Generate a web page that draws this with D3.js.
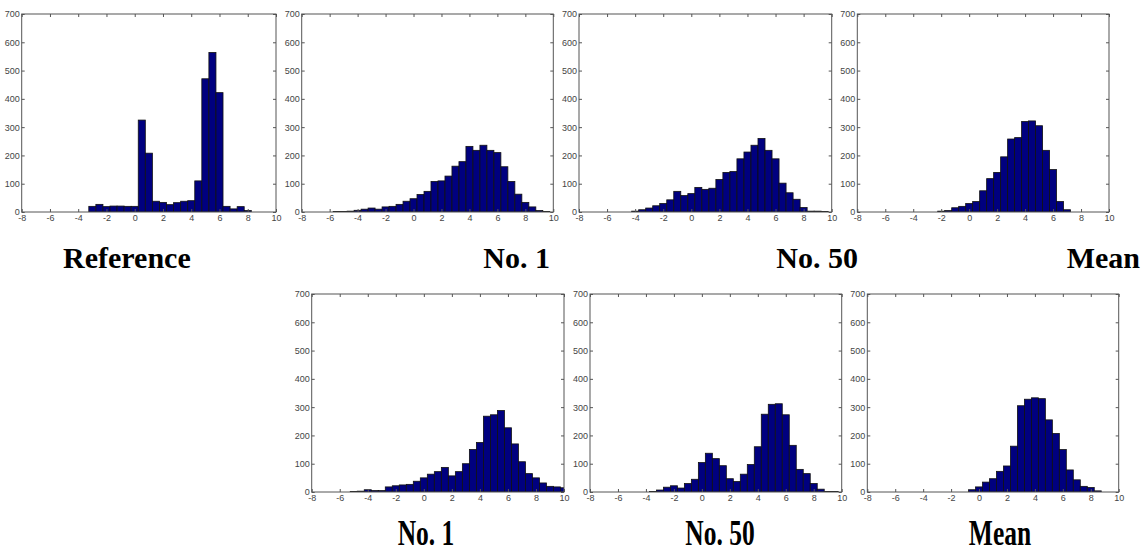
<!DOCTYPE html>
<html>
<head>
<meta charset="utf-8">
<script src="https://cdn.jsdelivr.net/npm/d3@7"></script>
<style>
  html, body { margin: 0; padding: 0; background: #fff; }
  svg { display: block; }
  .tick text { font-family: "Liberation Sans", Arial, sans-serif; font-size: 9px; fill: #444; }
  .caption { font-family: "Liberation Serif", "Times New Roman", serif; font-weight: bold; font-size: 30px; fill: #000; }
</style>
</head>
<body>
<svg id="chart" width="1147" height="552"></svg>
<script>
// Shared axis ticks and bin width (histogram bins of 0.5)
const xTicks = [-8, -6, -4, -2, 0, 2, 4, 6, 8, 10];
const yTicks = [0, 100, 200, 300, 400, 500, 600, 700];
const binWidth = 0.5;

// Reference distribution
const refStart = -3.25;
const refCounts = [20, 27, 19, 21, 21, 20, 20, 325, 208, 38, 34, 26, 33, 38, 40, 110, 471, 564, 422, 20, 11, 19, 5];

// Top row: No. 1, No. 50, Mean
const topNo1Start = -5.75;
const topNo1Counts = [2, 2, 3, 6, 10, 14, 10, 18, 20, 27, 38, 47, 62, 73, 108, 110, 127, 162, 178, 232, 218, 236, 218, 210, 160, 108, 63, 34, 18, 5, 2];
const topNo50Start = -4.25;
const topNo50Counts = [3, 8, 14, 22, 30, 43, 73, 58, 65, 87, 80, 84, 115, 140, 143, 188, 212, 236, 260, 218, 188, 102, 68, 45, 16, 3, 3, 2];
const topMeanStart = -2.25;
const topMeanCounts = [3, 5, 15, 20, 30, 37, 75, 118, 140, 195, 258, 263, 320, 322, 305, 218, 150, 37, 8];

// Bottom row: No. 1, No. 50, Mean
const botNo1Start = -5.25;
const botNo1Counts = [2, 3, 8, 5, 5, 18, 22, 25, 27, 38, 50, 63, 72, 87, 57, 72, 100, 150, 175, 268, 273, 288, 227, 170, 107, 65, 50, 32, 20, 18, 15];
const botNo50Start = -3.75;
const botNo50Counts = [2, 7, 17, 22, 14, 30, 45, 104, 137, 118, 93, 47, 37, 63, 97, 160, 275, 310, 312, 273, 165, 80, 65, 30, 10, 2, 2];
const botMeanStart = -0.75;
const botMeanCounts = [8, 18, 35, 47, 73, 92, 162, 305, 328, 333, 330, 255, 207, 150, 78, 43, 20, 16, 4];

const svg = d3.select("#chart");

const panelH = 198;
const panels = [
  { start: refStart,     counts: refCounts,     left: 21.7,  top: 14,  w: 254.3 },
  { start: topNo1Start,  counts: topNo1Counts,  left: 301.7, top: 14,  w: 251.6 },
  { start: topNo50Start, counts: topNo50Counts, left: 579,   top: 14,  w: 252.7 },
  { start: topMeanStart, counts: topMeanCounts, left: 857.3, top: 14,  w: 251.7 },
  { start: botNo1Start,  counts: botNo1Counts,  left: 311.7, top: 294, w: 252.3 },
  { start: botNo50Start, counts: botNo50Counts, left: 590,   top: 294, w: 251.7 },
  { start: botMeanStart, counts: botMeanCounts, left: 867.3, top: 294, w: 251.4 }
];

const plain = d => String(d);

panels.forEach((p, i) => {
  const g = svg.append("g").attr("transform", `translate(${p.left},${p.top})`);
  const x = d3.scaleLinear().domain([-8, 10]).range([0, p.w]);
  const y = d3.scaleLinear().domain([0, 700]).range([panelH, 0]);

  const clipId = "clip" + i;
  g.append("clipPath").attr("id", clipId)
    .append("rect").attr("width", p.w).attr("height", panelH);

  const bins = p.counts.map((c, k) => ({ x0: p.start + k * binWidth, x1: p.start + (k + 1) * binWidth, n: c }));

  g.append("g").attr("clip-path", `url(#${clipId})`)
    .selectAll("rect").data(bins).join("rect")
    .attr("x", d => x(d.x0))
    .attr("width", d => x(d.x1) - x(d.x0))
    .attr("y", d => y(d.n))
    .attr("height", d => y(0) - y(d.n))
    .attr("fill", "#00007f")
    .attr("stroke", "#111")
    .attr("stroke-width", 0.8);

  const axisColor = "#555";
  const style = sel => {
    sel.select(".domain").remove();
    sel.selectAll(".tick line").attr("stroke", axisColor);
  };

  g.append("g").attr("transform", `translate(0,${panelH})`)
    .call(d3.axisBottom(x).tickValues(xTicks).tickSize(-3).tickPadding(3).tickFormat(plain))
    .call(style);
  g.append("g")
    .call(d3.axisTop(x).tickValues(xTicks).tickSize(-3).tickFormat(""))
    .call(style);
  g.append("g")
    .call(d3.axisLeft(y).tickValues(yTicks).tickSize(-3).tickPadding(2).tickFormat(plain))
    .call(style);
  g.append("g").attr("transform", `translate(${p.w},0)`)
    .call(d3.axisRight(y).tickValues(yTicks).tickSize(-3).tickFormat(""))
    .call(style);

  g.append("rect").attr("width", p.w).attr("height", panelH)
    .attr("fill", "none").attr("stroke", axisColor).attr("stroke-width", 1);
});

// Captions under the panels
const topCaptions = [
  { text: "Reference", x: 63,  anchor: "start" },
  { text: "No. 1",     x: 550, anchor: "end" },
  { text: "No. 50",    x: 858, anchor: "end" },
  { text: "Mean",      x: 1140, anchor: "end" }
];
svg.selectAll("text.top").data(topCaptions).join("text")
  .attr("class", "caption top")
  .attr("x", d => d.x).attr("y", 268)
  .attr("text-anchor", d => d.anchor)
  .text(d => d.text);

const bottomCaptions = [
  { text: "No. 1",  cx: 426 },
  { text: "No. 50", cx: 720 },
  { text: "Mean",   cx: 1000 }
];
svg.selectAll("text.bottom").data(bottomCaptions).join("text")
  .attr("class", "caption bottom")
  .attr("text-anchor", "middle")
  .attr("transform", d => `translate(${d.cx},545) scale(0.85,1.2)`)
  .text(d => d.text);
</script>
</body>
</html>
